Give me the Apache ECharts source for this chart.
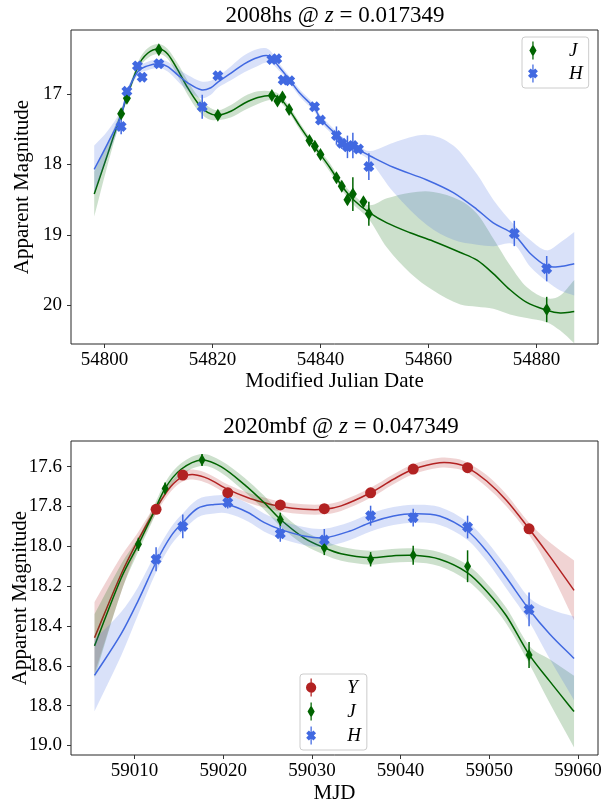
<!DOCTYPE html>
<html>
<head>
<meta charset="utf-8">
<script src="https://cdn.jsdelivr.net/npm/echarts@6/dist/echarts.min.js"></script>
<style>html,body{margin:0;padding:0;background:#fff}#c{width:605px;height:803px}</style>
</head>
<body>
<div id="c"></div>
<script>
// ---------- Panel 1: 2008hs ----------
const topTitle = ['2008hs @ ', 'z', ' = 0.017349'];
const topXTicks = [54800, 54820, 54840, 54860, 54880];
const topYTicks = [17, 18, 19, 20];

const topJ_mjd = [54803.09, 54804.15, 54810.07, 54821.0, 54831.0, 54832.04, 54832.96, 54834.2, 54837.96, 54838.96, 54840.0, 54842.96, 54843.95, 54845.0, 54846.0, 54847.96, 54848.96, 54881.9];
const topJ_mag = [17.28, 17.06, 16.37, 17.30, 17.02, 17.10, 17.04, 17.22, 17.66, 17.74, 17.86, 18.19, 18.31, 18.50, 18.42, 18.53, 18.70, 20.06];
const topJ_err = [0.06, 0.04, 0.05, 0.05, 0.04, 0.04, 0.04, 0.04, 0.05, 0.05, 0.05, 0.06, 0.06, 0.07, 0.24, 0.07, 0.17, 0.18];

const topH_mjd = [54803.09, 54804.15, 54806.1, 54806.98, 54810.07, 54818.1, 54821.0, 54831.0, 54831.9, 54833.1, 54834.3, 54838.9, 54840.0, 54842.96, 54843.96, 54845.0, 54846.0, 54847.04, 54848.96, 54875.9, 54881.9];
const topH_mag = [17.46, 16.96, 16.60, 16.76, 16.57, 17.18, 16.74, 16.51, 16.50, 16.80, 16.81, 17.18, 17.37, 17.59, 17.70, 17.75, 17.73, 17.78, 18.03, 18.98, 19.48];
const topH_err = [0.11, 0.04, 0.04, 0.04, 0.05, 0.17, 0.04, 0.04, 0.04, 0.04, 0.04, 0.05, 0.05, 0.13, 0.08, 0.16, 0.18, 0.05, 0.19, 0.18, 0.18];

const topJfit_mjd = [54798.1, 54800.6, 54803.1, 54806.2, 54808.0, 54810.1, 54811.7, 54813.6, 54815.4, 54817.3, 54819.1, 54821.0, 54823.5, 54825.9, 54828.4, 54831.0, 54832.5, 54834.2, 54836.2, 54838.0, 54840.0, 54841.8, 54844.0, 54846.1, 54849.0, 54852.3, 54856.6, 54860.9, 54865.9, 54869.0, 54872.0, 54875.1, 54878.2, 54881.9, 54884.4, 54887.0];
const topJfit_mean = [18.42, 17.85, 17.28, 16.61, 16.42, 16.36, 16.43, 16.66, 16.91, 17.13, 17.26, 17.30, 17.24, 17.13, 17.05, 17.02, 17.06, 17.22, 17.46, 17.66, 17.86, 18.05, 18.31, 18.50, 18.68, 18.83, 18.97, 19.09, 19.25, 19.36, 19.55, 19.78, 19.96, 20.07, 20.11, 20.09];
const topJfit_sd = [0.32, 0.15, 0.06, 0.06, 0.07, 0.07, 0.07, 0.09, 0.10, 0.10, 0.09, 0.07, 0.09, 0.10, 0.09, 0.06, 0.05, 0.05, 0.05, 0.05, 0.05, 0.06, 0.06, 0.07, 0.10, 0.35, 0.57, 0.70, 0.74, 0.66, 0.50, 0.35, 0.22, 0.17, 0.25, 0.45];

const topHfit_mjd = [54798.1, 54800.6, 54803.1, 54804.15, 54806.2, 54808.0, 54810.1, 54811.7, 54813.6, 54815.4, 54817.9, 54819.7, 54821.0, 54823.5, 54825.9, 54828.4, 54830.5, 54832.5, 54834.3, 54836.2, 54838.9, 54840.0, 54843.0, 54845.0, 54847.0, 54849.2, 54853.5, 54859.7, 54864.6, 54869.0, 54872.0, 54875.9, 54878.8, 54881.9, 54884.4, 54887.0];
const topHfit_mean = [18.07, 17.70, 17.30, 16.99, 16.68, 16.60, 16.57, 16.61, 16.73, 16.84, 16.94, 16.91, 16.83, 16.70, 16.57, 16.48, 16.46, 16.63, 16.80, 16.99, 17.20, 17.35, 17.58, 17.72, 17.79, 17.88, 18.04, 18.22, 18.40, 18.64, 18.83, 19.00, 19.26, 19.44, 19.45, 19.41];
const topHfit_sd = [0.34, 0.18, 0.08, 0.05, 0.05, 0.06, 0.06, 0.07, 0.09, 0.11, 0.12, 0.10, 0.08, 0.10, 0.12, 0.12, 0.09, 0.05, 0.05, 0.05, 0.05, 0.05, 0.05, 0.05, 0.05, 0.07, 0.35, 0.64, 0.67, 0.50, 0.33, 0.14, 0.19, 0.22, 0.34, 0.45];

// ---------- Panel 2: 2020mbf ----------
const botTitle = ['2020mbf @ ', 'z', ' = 0.047349'];
const botXTicks = [59010, 59020, 59030, 59040, 59050, 59060];
const botYTicks = [17.6, 17.8, 18.0, 18.2, 18.4, 18.6, 18.8, 19.0];

const botY_mjd = [59012.44, 59015.45, 59020.52, 59026.44, 59031.40, 59036.62, 59041.42, 59047.55, 59054.48];
const botY_mag = [17.814, 17.642, 17.731, 17.792, 17.811, 17.731, 17.612, 17.605, 17.912];
const botY_err = [0.01, 0.01, 0.01, 0.01, 0.01, 0.01, 0.01, 0.01, 0.01];

const botJ_mjd = [59010.45, 59013.46, 59017.62, 59026.44, 59031.40, 59036.62, 59041.42, 59047.55, 59054.48];
const botJ_mag = [17.99, 17.709, 17.566, 17.866, 18.007, 18.065, 18.045, 18.10, 18.546];
const botJ_err = [0.033, 0.03, 0.03, 0.035, 0.037, 0.036, 0.048, 0.08, 0.065];

const botH_mjd = [59012.44, 59015.45, 59020.52, 59026.44, 59031.40, 59036.62, 59041.42, 59047.55, 59054.48];
const botH_mag = [18.065, 17.90, 17.78, 17.937, 17.968, 17.846, 17.856, 17.903, 18.317];
const botH_err = [0.06, 0.06, 0.03, 0.04, 0.055, 0.05, 0.045, 0.057, 0.085];

const botYfit_mjd = [59005.5, 59008.5, 59010.4, 59012.44, 59014.1, 59015.45, 59016.76, 59018.3, 59020.52, 59022.8, 59024.6, 59026.44, 59029.1, 59031.4, 59033.3, 59036.62, 59039.2, 59041.42, 59044.4, 59046.3, 59047.55, 59049.7, 59051.94, 59054.48, 59056.8, 59059.55];
const botYfit_mean = [18.459, 18.14, 17.97, 17.81, 17.70, 17.65, 17.64, 17.66, 17.714, 17.756, 17.78, 17.80, 17.814, 17.814, 17.797, 17.731, 17.663, 17.613, 17.58, 17.585, 17.605, 17.672, 17.77, 17.912, 18.049, 18.221];
const botYfit_sd = [0.18, 0.09, 0.04, 0.025, 0.025, 0.025, 0.025, 0.025, 0.025, 0.025, 0.025, 0.025, 0.025, 0.025, 0.025, 0.025, 0.025, 0.025, 0.025, 0.025, 0.025, 0.03, 0.03, 0.03, 0.07, 0.15];

const botJfit_mjd = [59005.5, 59008.5, 59010.45, 59011.9, 59013.46, 59015.26, 59017.62, 59019.76, 59022.4, 59024.6, 59026.44, 59029.1, 59031.4, 59033.3, 59036.62, 59039.0, 59041.42, 59044.4, 59047.55, 59049.7, 59051.94, 59054.48, 59056.8, 59059.55];
const botJfit_mean = [18.50, 18.16, 17.99, 17.856, 17.709, 17.613, 17.566, 17.60, 17.69, 17.78, 17.864, 17.957, 18.007, 18.037, 18.057, 18.048, 18.045, 18.065, 18.133, 18.225, 18.35, 18.543, 18.677, 18.83];
const botJfit_sd = [0.16, 0.07, 0.035, 0.03, 0.03, 0.03, 0.03, 0.03, 0.035, 0.035, 0.035, 0.035, 0.035, 0.035, 0.035, 0.035, 0.035, 0.035, 0.04, 0.04, 0.04, 0.045, 0.11, 0.18];

const botHfit_mjd = [59005.5, 59008.5, 59010.4, 59012.44, 59014.1, 59015.45, 59017.1, 59019.0, 59020.52, 59022.8, 59024.6, 59026.44, 59029.1, 59031.4, 59034.3, 59036.62, 59039.2, 59041.42, 59044.4, 59047.55, 59049.7, 59051.94, 59054.48, 59056.8, 59059.55];
const botHfit_mean = [18.648, 18.44, 18.275, 18.08, 17.95, 17.88, 17.81, 17.79, 17.79, 17.83, 17.88, 17.915, 17.948, 17.957, 17.923, 17.88, 17.848, 17.836, 17.848, 17.923, 18.024, 18.158, 18.317, 18.44, 18.563];
const botHfit_sd = [0.18, 0.11, 0.07, 0.05, 0.045, 0.045, 0.045, 0.045, 0.045, 0.045, 0.045, 0.045, 0.045, 0.045, 0.045, 0.045, 0.045, 0.045, 0.045, 0.045, 0.05, 0.055, 0.06, 0.125, 0.21];

// ---------- styling ----------
const FONT = 'Liberation Serif';
const C_RED = '#b22222', C_GREEN = '#006400', C_BLUE = '#4169e1';
const SYM_X = 'path://M0,3 L3,0 L5,2 L7,0 L10,3 L8,5 L10,7 L7,10 L5,8 L3,10 L0,7 L2,5 Z';
const ICON_D = 'path://M9.3,0 H10.7 V20 H9.3 Z M10,3 L14,10 L10,17 L6,10 Z';
const ICON_O = 'path://M9.3,0 H10.7 V20 H9.3 Z M10,4.3 A5.7,5.7 0 1 1 9.99,4.3 Z';
const ICON_X = 'path://M9.3,0 H10.7 V20 H9.3 Z M4.5,7.5 L7.5,4.5 L10,7 L12.5,4.5 L15.5,7.5 L13,10 L15.5,12.5 L12.5,15.5 L10,13 L7.5,15.5 L4.5,12.5 L7,10 Z';

// smooth curve through pixel points (x-monotone cubic Hermite segments)
function curvePath(pts, moveFirst) {
  const n = pts.length;
  const slope = [];
  for (let i = 0; i < n; i++) {
    const a = pts[Math.max(0, i - 1)], b = pts[Math.min(n - 1, i + 1)];
    slope.push((b[1] - a[1]) / (b[0] - a[0]));
  }
  let d = (moveFirst ? 'M' : 'L') + pts[0][0].toFixed(2) + ',' + pts[0][1].toFixed(2);
  for (let i = 0; i < n - 1; i++) {
    const p = pts[i], q = pts[i + 1], h = (q[0] - p[0]) / 3;
    d += 'C' + (p[0] + h).toFixed(2) + ',' + (p[1] + slope[i] * h).toFixed(2) + ' ' +
         (q[0] - h).toFixed(2) + ',' + (q[1] - slope[i + 1] * h).toFixed(2) + ' ' +
         q[0].toFixed(2) + ',' + q[1].toFixed(2);
  }
  return d;
}
function fitSeries(ax, xs, mean, sd, color) {
  return {
    type: 'custom', xAxisIndex: ax, yAxisIndex: ax, silent: true, z: 1,
    data: xs.map((x, i) => [x, mean[i], sd[i]]),
    encode: {x: 0, y: 1},
    renderItem: function (params, api) {
      if (params.dataIndexInside !== 0) return null;
      const n = params.dataInsideLength;
      const up = [], lo = [], mid = [];
      for (let i = 0; i < n; i++) {
        const x = api.value(0, i), m = api.value(1, i), s = api.value(2, i);
        up.push(api.coord([x, m - s]));
        lo.push(api.coord([x, m + s]));
        mid.push(api.coord([x, m]));
      }
      const band = curvePath(up, true) + curvePath(lo.slice().reverse(), false) + 'Z';
      return {type: 'group', children: [
        {type: 'path', shape: {pathData: band}, style: {fill: echarts.color.modifyAlpha(color, 0.2), stroke: null}},
        {type: 'path', shape: {pathData: curvePath(mid, true)}, style: {fill: null, stroke: color, lineWidth: 1.5}}
      ]};
    }
  };
}
function errSeries(ax, xs, ys, es, color) {
  return {
    type: 'custom', xAxisIndex: ax, yAxisIndex: ax, silent: true, z: 3,
    data: xs.map((x, i) => [x, ys[i], es[i]]),
    encode: {x: 0, y: 1},
    renderItem: function (params, api) {
      const x = api.value(0), y = api.value(1), e = api.value(2);
      const p1 = api.coord([x, y - e]), p2 = api.coord([x, y + e]);
      return {type: 'line', shape: {x1: p1[0], y1: p1[1], x2: p2[0], y2: p2[1]},
              style: {stroke: color, lineWidth: 1.5}};
    }
  };
}
function ptSeries(ax, name, xs, ys, color, symbol, size) {
  return {type: 'scatter', name: name, xAxisIndex: ax, yAxisIndex: ax, data: xs.map((x, i) => [x, ys[i]]),
          symbol: symbol, symbolSize: size, itemStyle: {color: color, opacity: 1}, z: 4, silent: true};
}
function axisX(idx, min, max, ticks, name, gap) {
  return {type: 'value', gridIndex: idx, min: min, max: max, name: name, nameLocation: 'middle', nameGap: gap,
          nameMoveOverlap: false,
          nameTextStyle: {fontFamily: FONT, fontSize: 21, color: '#000'},
          axisLine: {show: false}, splitLine: {show: false},
          axisTick: {show: true, customValues: ticks, length: 4, lineStyle: {color: '#333', width: 1}},
          axisLabel: {customValues: ticks, fontFamily: FONT, fontSize: 19, color: '#000', margin: 7,
                      hideOverlap: false, formatter: v => String(v)}};
}
function axisY(idx, min, max, ticks, name, gap, dec) {
  return {type: 'value', gridIndex: idx, inverse: true, min: min, max: max, name: name, nameLocation: 'middle',
          nameGap: gap, nameMoveOverlap: false,
          nameTextStyle: {fontFamily: FONT, fontSize: 21, color: '#000'},
          axisLine: {show: false}, splitLine: {show: false},
          axisTick: {show: true, customValues: ticks, length: 4, lineStyle: {color: '#333', width: 1}},
          axisLabel: {customValues: ticks, fontFamily: FONT, fontSize: 19, color: '#000', margin: 9,
                      formatter: v => Number(v).toFixed(dec)}};
}
function titleRich(parts, left, top) {
  return {text: '{a|' + parts[0] + '}{i|' + parts[1] + '}{a|' + parts[2] + '}', left: left, top: top,
          textAlign: 'center',
          textStyle: {fontWeight: 'normal', rich: {
            a: {fontFamily: FONT, fontSize: 23, fontWeight: 'normal', color: '#000'},
            i: {fontFamily: FONT, fontSize: 23, fontWeight: 'normal', fontStyle: 'italic', color: '#000'}}}};
}
const legendBase = {orient: 'vertical', itemWidth: 30, itemHeight: 18, symbolKeepAspect: true,
  backgroundColor: 'rgba(255,255,255,0.8)', borderColor: '#cccccc', borderWidth: 1, borderRadius: 3,
  textStyle: {fontFamily: FONT, fontSize: 19, fontStyle: 'italic', color: '#000', padding: [0, 6, 0, 16]},
  selectedMode: false};

const chart = echarts.init(document.getElementById('c'), null, {renderer: 'canvas'});
const option = {
  animation: false,
  backgroundColor: '#fff',
  title: [titleRich(topTitle, 330, -1), titleRich(botTitle, 336, 410)],
  grid: [
    {left: 71, top: 30, width: 527, height: 314, show: true, borderColor: '#262626', borderWidth: 1,
     backgroundColor: 'transparent', outerBoundsMode: 'none', containLabel: false},
    {left: 71, top: 441, width: 527, height: 314, show: true, borderColor: '#262626', borderWidth: 1,
     backgroundColor: 'transparent', outerBoundsMode: 'none', containLabel: false}
  ],
  xAxis: [axisX(0, 54793.8, 54891.4, topXTicks, 'Modified Julian Date', 27),
          axisX(1, 59002.85, 59062.25, botXTicks, 'MJD', 28)],
  yAxis: [axisY(0, 16.09, 20.55, topYTicks, 'Apparent Magnitude', 38, 0),
          axisY(1, 17.471, 19.048, botYTicks, 'Apparent Magnitude', 40, 1)],
  legend: [
    Object.assign({}, legendBase, {left: 522, top: 37, padding: [4, 6, 5, 6], itemGap: 4,
      data: [{name: 'J', icon: ICON_D, itemStyle: {color: C_GREEN}}, {name: 'H', icon: ICON_X, itemStyle: {color: C_BLUE}}]}),
    Object.assign({}, legendBase, {left: 300, top: 674, padding: [4, 6, 5, 6], itemGap: 5,
      data: [{name: 'Y', icon: ICON_O, itemStyle: {color: C_RED}}, {name: 'J', icon: ICON_D, itemStyle: {color: C_GREEN}}, {name: 'H', icon: ICON_X, itemStyle: {color: C_BLUE}}]})
  ],
  series: [
    fitSeries(0, topJfit_mjd, topJfit_mean, topJfit_sd, C_GREEN),
    fitSeries(0, topHfit_mjd, topHfit_mean, topHfit_sd, C_BLUE),
    errSeries(0, topJ_mjd, topJ_mag, topJ_err, C_GREEN),
    errSeries(0, topH_mjd, topH_mag, topH_err, C_BLUE),
    ptSeries(0, 'J', topJ_mjd, topJ_mag, C_GREEN, 'diamond', [8, 13]),
    ptSeries(0, 'H', topH_mjd, topH_mag, C_BLUE, SYM_X, 11),
    fitSeries(1, botYfit_mjd, botYfit_mean, botYfit_sd, C_RED),
    fitSeries(1, botJfit_mjd, botJfit_mean, botJfit_sd, C_GREEN),
    fitSeries(1, botHfit_mjd, botHfit_mean, botHfit_sd, C_BLUE),
    errSeries(1, botY_mjd, botY_mag, botY_err, C_RED),
    errSeries(1, botJ_mjd, botJ_mag, botJ_err, C_GREEN),
    errSeries(1, botH_mjd, botH_mag, botH_err, C_BLUE),
    ptSeries(1, 'Y', botY_mjd, botY_mag, C_RED, 'circle', 11),
    ptSeries(1, 'J', botJ_mjd, botJ_mag, C_GREEN, 'diamond', [7, 12]),
    ptSeries(1, 'H', botH_mjd, botH_mag, C_BLUE, SYM_X, 11)
  ]
};
chart.setOption(option);
</script>
</body>
</html>
